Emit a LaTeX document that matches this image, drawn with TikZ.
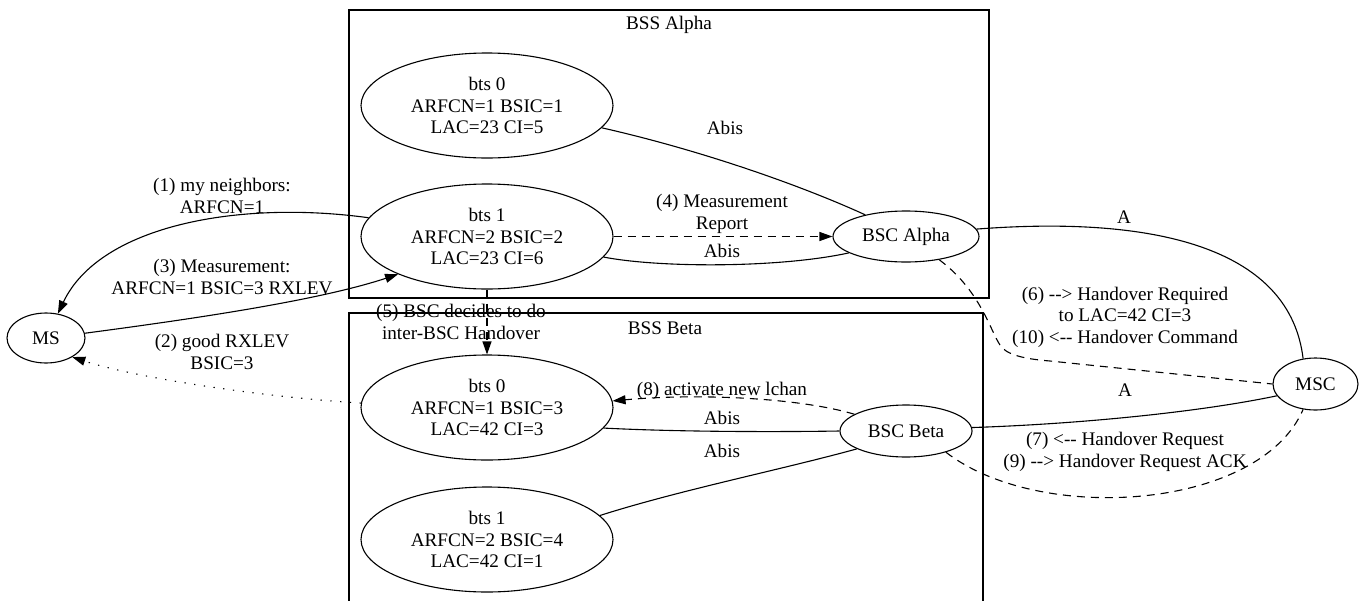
\documentclass[tikz,border=0pt]{standalone}
\usepackage{fontspec}
\setmainfont{Liberation Serif}
\usetikzlibrary{arrows.meta,shapes.geometric}
\tikzset{
  ho text/.style={font=\fontsize{19.2}{21.5}\selectfont, text=black},
  ho cluster/.style={draw=black, line width=1.1pt},
  ho bts/.style={ellipse, draw=black, line width=1.1pt, inner sep=0pt,
    minimum width=252pt, minimum height=105pt, align=center},
  ho unit/.style={ellipse, draw=black, line width=1.1pt, inner sep=0pt},
  ho link/.style={draw=black, line width=1.1pt},
  ho msg/.style={ho link, dash pattern=on 8pt off 6pt},
  ho air/.style={ho link, dash pattern=on 1.3pt off 8.5pt},
  ho tip/.style={-{Triangle[length=13pt,width=9pt]}},
  ho label/.style={align=center, inner sep=0pt}
}

\begin{document}
\begin{tikzpicture}[ho text, x=1pt, y=-1pt]
  \useasboundingbox (0,0) rectangle (1363,600);
  % the two base station subsystems
  \draw[ho cluster] (349,10) rectangle (989,298);
  \draw[ho cluster] (349,313) rectangle (983,603);
  \node (alphaname) at (669,25) {BSS Alpha};
  \node (betaname) at (665,328) {BSS Beta};

  \node[ho bts] (bts0a) at (487,105.5) {bts 0\\ARFCN=1 BSIC=1\\LAC=23 CI=5};
  \node[ho bts] (bts1a) at (487,236.5) {bts 1\\ARFCN=2 BSIC=2\\LAC=23 CI=6};
  \node[ho bts] (bts0b) at (487,407.5) {bts 0\\ARFCN=1 BSIC=3\\LAC=42 CI=3};
  \node[ho bts] (bts1b) at (487,539.5) {bts 1\\ARFCN=2 BSIC=4\\LAC=42 CI=1};
  \node[ho unit, minimum width=146pt, minimum height=51pt] (bsca) at (906,236.5) {BSC Alpha};
  \node[ho unit, minimum width=132pt, minimum height=52pt] (bscb) at (906,431) {BSC Beta};
  \node[ho unit, minimum width=78pt, minimum height=50pt] (ms) at (46,338) {MS};
  \node[ho unit, minimum width=85pt, minimum height=52pt] (msc) at (1315.5,384) {MSC};

  % Abis and A interfaces
  \draw[ho link] (bts0a.-11) .. controls (700,150) and (800,185) .. (bsca.152);
  \draw[ho link] (bts1a.-10) .. controls (660,268) and (780,268) .. (bsca.196);
  \draw[ho link] (bts0b.-10) .. controls (680,432) and (780,432) .. (bscb.west);
  \draw[ho link] (bts1b.12) .. controls (680,490) and (780,470) .. (bscb.200);
  \draw[ho link] (bsca.6) .. controls (1160,215) and (1290,250) .. (msc.116);
  \draw[ho link] (bscb.3) .. controls (1080,424) and (1200,412) .. (msc.197);
  \node (abis1) at (725,128) {Abis};
  \node (abis2) at (722,251) {Abis};
  \node (abis3) at (722,418) {Abis};
  \node (abis4) at (722,451) {Abis};
  \node (iface1) at (1124,217) {A};
  \node (iface2) at (1125,390) {A};

  % handover messages
  \draw[ho link, ho tip] (bts1a.171) .. controls (240,200) and (100,225) .. (ms.64);
  \draw[ho link, ho tip] (ms.7) .. controls (200,318) and (320,300) .. (bts1a.203);
  \draw[ho air, ho tip] (bts0b.178) .. controls (250,396) and (130,376) .. (ms.-36);
  \draw[ho msg, ho tip] (bts1a.east) -- (bsca.west);
  \draw[ho msg, ho tip] (bts1a.south) -- (bts0b.north);
  \draw[ho msg] (bsca.-35) .. controls (980,290) and (990,330) .. (1000,345)
    .. controls (1006,355) and (1025,359) .. (1050,361) -- (msc.west);
  \draw[ho msg, ho tip] (bscb.162) .. controls (800,398) and (700,393) .. (bts0b.3);
  \draw[ho msg] (bscb.-28) .. controls (1040,525) and (1260,510) .. (msc.244);

  \node[ho label] (msg1) at (222,196) {(1) my neighbors:\\ARFCN=1};
  \node[ho label] (msg3) at (222,277) {(3) Measurement:\\ARFCN=1 BSIC=3 RXLEV};
  \node[ho label] (msg2) at (222,352) {(2) good RXLEV\\BSIC=3};
  \node[ho label] (msg4) at (722,214) {(4) Measurement\\Report};
  \node[ho label] (msg5) at (461,322) {(5) BSC decides to do\\inter-BSC Handover};
  \node[ho label] (msg6) at (1125,317) {(6) -{}-> Handover Required\\to LAC=42 CI=3\\(10) <-{}- Handover Command};
  \node[ho label] (msg8) at (722,391) {(8) activate new lchan};
  \node[ho label] (msg7) at (1125,452) {(7) <-{}- Handover Request\\(9) -{}-> Handover Request ACK};
\end{tikzpicture}
\end{document}
